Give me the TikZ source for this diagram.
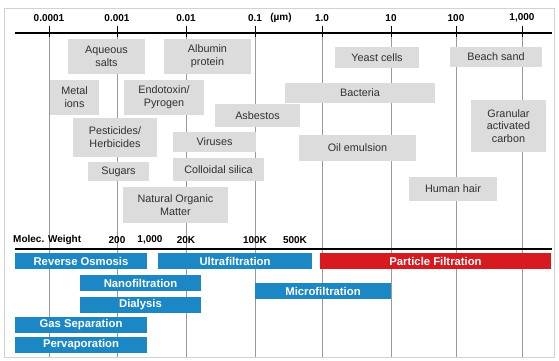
\documentclass[tikz,border=0pt]{standalone}
\usepackage{fontspec}
\setmainfont{Liberation Sans}
\definecolor{boxgray}{HTML}{DCDCDC}
\definecolor{procblue}{HTML}{1B88C5}
\definecolor{procred}{HTML}{D71920}
\definecolor{textgray}{HTML}{303030}
\definecolor{gridgray}{HTML}{9A9A9A}
\tikzset{
    grayitem/.style={fill=boxgray, text=textgray, inner sep=0pt, align=center,
        font=\fontsize{10.8}{12.8}\selectfont},
    blueitem/.style={fill=procblue, text=white, inner sep=0pt, minimum height=16pt,
        font=\fontsize{11.3}{12}\selectfont\bfseries},
    reditem/.style={blueitem, fill=procred},
    scalelabel/.style={font=\fontsize{10}{11}\selectfont\bfseries, inner sep=0pt},
    gridline/.style={gridgray, line width=1pt},
}
\begin{document}
\begin{tikzpicture}[x=1pt,y=-1pt]
        \useasboundingbox (0,0) rectangle (559,360);
        \draw[gray!35, line width=0.8pt] (4,8) rectangle (554,357);
        % size grid
        \draw[gridline] (49,33) -- (49,357);
        \draw[gridline] (117,33) -- (117,357);
        \draw[gridline] (186,33) -- (186,357);
        \draw[gridline] (255,33) -- (255,357);
        \draw[gridline] (322,33) -- (322,357);
        \draw[gridline] (391,33) -- (391,357);
        \draw[gridline] (456,33) -- (456,357);
        \draw[gridline] (522,33) -- (522,357);
        \draw[line width=1pt] (49,26) -- (49,37);
        \draw[line width=1pt] (117,26) -- (117,37);
        \draw[line width=1pt] (186,26) -- (186,37);
        \draw[line width=1pt] (255,26) -- (255,37);
        \draw[line width=1pt] (322,26) -- (322,37);
        \draw[line width=1pt] (391,26) -- (391,37);
        \draw[line width=1pt] (456,26) -- (456,37);
        \draw[line width=1pt] (522,26) -- (522,37);
        \draw[line width=1.5pt] (15,33) -- (552,33);
        \draw[line width=1.5pt] (15,249) -- (552,249);
        % micrometre scale
        \node[scalelabel] (um1) at (49,18) {0.0001};
        \node[scalelabel] (um2) at (117,18) {0.001};
        \node[scalelabel] (um3) at (186,18) {0.01};
        \node[scalelabel] (um4) at (255,18) {0.1};
        \node[scalelabel] (unit) at (281,18) {(µm)};
        \node[scalelabel] (um5) at (322,18) {1.0};
        \node[scalelabel] (um6) at (391,18) {10};
        \node[scalelabel] (um7) at (456,18) {100};
        \node[scalelabel] (um8) at (522,18) {1,000};
        % molecular weight scale
        \node[scalelabel, anchor=west] (mw) at (13,240) {Molec. Weight};
        \node[scalelabel] (mw1) at (117,240) {200};
        \node[scalelabel] (mw2) at (150,240) {1,000};
        \node[scalelabel] (mw3) at (186,240) {20K};
        \node[scalelabel] (mw4) at (255,240) {100K};
        \node[scalelabel] (mw5) at (295,240) {500K};
        % contaminants
        \node[grayitem, minimum width=77pt, minimum height=35pt] (salts) at (106.5,56.5) {Aqueous\\salts};
        \node[grayitem, minimum width=87pt, minimum height=35pt] (albumin) at (207.5,56.5) {Albumin\\protein};
        \node[grayitem, minimum width=84pt, minimum height=21pt] (yeast) at (377,57.5) {Yeast cells};
        \node[grayitem, minimum width=92pt, minimum height=20pt] (sand) at (496,56.5) {Beach sand};
        \node[grayitem, minimum width=49pt, minimum height=35pt] (metal) at (74.5,97.5) {Metal\\ions};
        \node[grayitem, minimum width=80pt, minimum height=35pt] (endotoxin) at (164,97.5) {Endotoxin/\\Pyrogen};
        \node[grayitem, minimum width=150pt, minimum height=20pt] (bacteria) at (360,93) {Bacteria};
        \node[grayitem, minimum width=75pt, minimum height=52pt] (carbon) at (508.5,126) {Granular\\activated\\carbon};
        \node[grayitem, minimum width=85pt, minimum height=23pt] (asbestos) at (257.5,115.5) {Asbestos};
        \node[grayitem, minimum width=84pt, minimum height=39pt] (pesticides) at (115,137.5) {Pesticides/\\Herbicides};
        \node[grayitem, minimum width=83pt, minimum height=20pt] (viruses) at (214.5,142) {Viruses};
        \node[grayitem, minimum width=117pt, minimum height=26pt] (oil) at (357.5,148) {Oil emulsion};
        \node[grayitem, minimum width=61pt, minimum height=19pt] (sugars) at (118.5,171.5) {Sugars};
        \node[grayitem, minimum width=91pt, minimum height=23pt] (silica) at (218.5,169.5) {Colloidal silica};
        \node[grayitem, minimum width=105pt, minimum height=36pt] (organic) at (175.5,205) {Natural Organic\\Matter};
        \node[grayitem, minimum width=88pt, minimum height=24pt] (hair) at (453,189) {Human hair};
        % separation processes
        \node[blueitem, minimum width=132pt] (ro) at (81,261) {Reverse Osmosis};
        \node[blueitem, minimum width=154pt] (uf) at (235,261) {Ultrafiltration};
        \node[reditem, minimum width=231pt] (pf) at (435.5,261) {Particle Filtration};
        \node[blueitem, minimum width=121pt] (nf) at (140.5,283) {Nanofiltration};
        \node[blueitem, minimum width=136pt] (mf) at (323,291) {Microfiltration};
        \node[blueitem, minimum width=121pt] (dialysis) at (140.5,305) {Dialysis};
        \node[blueitem, minimum width=132pt] (gas) at (81,325) {Gas Separation};
        \node[blueitem, minimum width=132pt] (perv) at (81,344.5) {Pervaporation};
    \end{tikzpicture}
\end{document}
